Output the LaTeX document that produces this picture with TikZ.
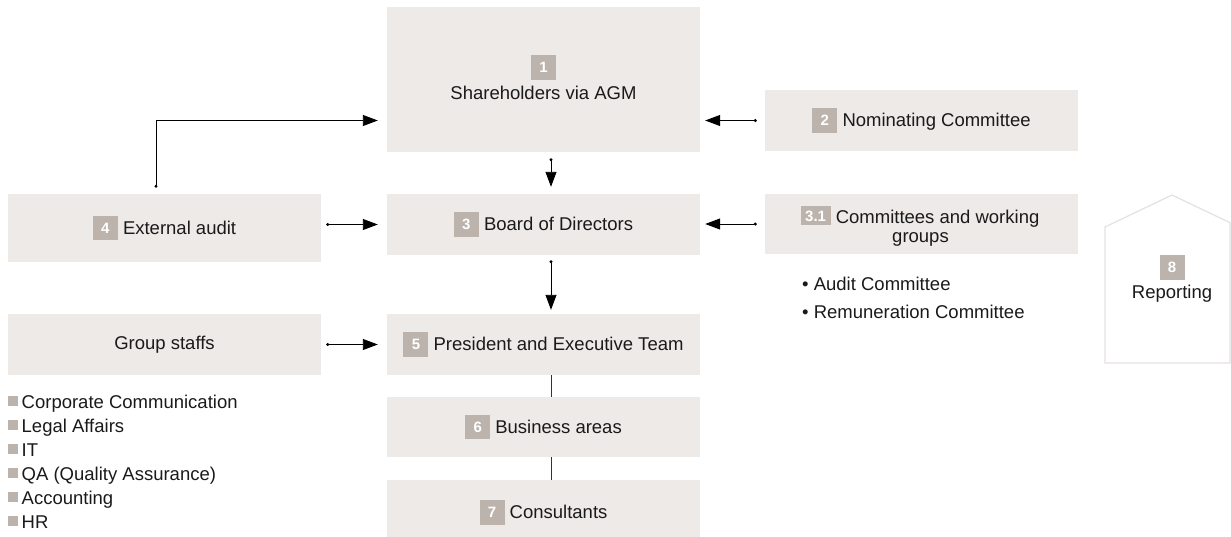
\documentclass[tikz,border=0pt]{standalone}
\usepackage{fontspec}
\setmainfont{Liberation Sans}
\usetikzlibrary{arrows.meta,calc}

\definecolor{boxfill}{HTML}{EEEAE8}
\definecolor{badgegrey}{HTML}{BCB3AD}
\definecolor{houseline}{HTML}{E6E1DF}
\definecolor{ink}{HTML}{1A1A1A}

\newcommand\mainsize{\fontsize{18.5pt}{22pt}\selectfont}
\newcommand\numfont{\fontsize{15pt}{15pt}\selectfont\bfseries}
% inline number badge, 25pt square sitting around the text baseline
\newcommand\nbadge[1]{{\setlength\fboxsep{0pt}\colorbox{badgegrey}{\makebox[25pt]{\rule[-6pt]{0pt}{24.5pt}\raisebox{1pt}{\textcolor{white}{\numfont #1}}}}}}
% flatter and wider badge for the committee box
\newcommand\wbadge[1]{{\setlength\fboxsep{0pt}\colorbox{badgegrey}{\makebox[30pt]{\rule[-2pt]{0pt}{19pt}\raisebox{1.5pt}{\textcolor{white}{\numfont #1}}}}}}
% small square list marker
\newcommand\sqmark{\textcolor{badgegrey}{\rule[2pt]{10pt}{10pt}}\hspace{3.5pt}}

\tikzset{
  box/.style={fill=boxfill, draw=none, minimum width=313pt, inner sep=0pt, font=\mainsize, text=ink},
  txt/.style={inner sep=0pt, font=\mainsize, text=ink},
  numbadge/.style={fill=badgegrey, minimum size=25pt, inner sep=0pt, text=white, font=\numfont},
  conn/.style={draw=black, line width=0.9pt, {Circle[length=3pt]}-{Triangle[length=15pt,width=11pt]}},
  plain/.style={draw=black!80, line width=0.9pt},
}

\begin{document}
\begin{tikzpicture}[x=1pt,y=-1pt]
\useasboundingbox (0,0) rectangle (1231,536);
\clip (0,0) rectangle (1231,536);

% centre column
\node[box, minimum height=145pt] (b1) at (543.5,79.5) {};
\node[numbadge] (n1) at (543.5,67.5) {1};
\node[txt, anchor=base] (t1) at (543.5,99.3) {Shareholders via AGM};

\node[box, minimum height=61pt] (b3) at (543.5,224.5) {\nbadge{3} Board of Directors};
\node[box, minimum height=61pt] (b5) at (543.5,344.5) {\nbadge{5} President and Executive Team};
\node[box, minimum height=60pt] (b6) at (543.5,427) {\nbadge{6} Business areas};
\node[box, minimum height=65pt] (b7) at (543.5,512.5) {\nbadge{7} Consultants};

% right column
\node[box, minimum height=61pt] (b2) at (921.5,120.5) {\nbadge{2} Nominating Committee};
\node[box, minimum height=60pt] (b31) at (921.5,224) {};
\node[txt, anchor=base] (t31a) at (920,223) {\wbadge{3.1} Committees and working};
\node[txt, anchor=base] (t31b) at (920.5,242) {groups};
\node[txt, anchor=base west] (c1) at (802,290) {• Audit Committee};
\node[txt, anchor=base west] (c2) at (802,318) {• Remuneration Committee};

% left column
\node[box, minimum height=68pt] (b4) at (164.5,228) {\nbadge{4} External audit};
\node[box, minimum height=61pt] (bgs) at (164.5,344.5) {Group staffs};
\node[txt, anchor=base west] (g1) at (8,408) {\sqmark Corporate Communication};
\node[txt, anchor=base west] (g2) at (8,432) {\sqmark Legal Affairs};
\node[txt, anchor=base west] (g3) at (8,456) {\sqmark IT};
\node[txt, anchor=base west] (g4) at (8,480) {\sqmark QA (Quality Assurance)};
\node[txt, anchor=base west] (g5) at (8,504) {\sqmark Accounting};
\node[txt, anchor=base west] (g6) at (8,528) {\sqmark HR};

% reporting house outline
\draw[houseline, line width=1.2pt, fill=white]
  (1105,363) -- (1105,227) -- (1172,195) -- (1230,222.7) -- (1230,363) -- cycle;
\node[numbadge] (n8) at (1172,267.5) {8};
\node[txt, anchor=base] (t8) at (1172,298.3) {Reporting};

% connectors
\draw[conn] ($(b2.west)+(-8,0)$) -- ($(b1.east |- b2.west)+(5,0)$);
\draw[conn] ($(b1.south)+(7.5,6)$) -- ($(b3.north)+(7.5,-7)$);
\draw[conn] ($(b31.west)+(-8,0)$) -- ($(b3.east |- b31.west)+(5,0)$);
\draw[conn] ($(b4.east |- b3.west)+(5,0)$) -- ($(b3.west)+(-9,0)$);
\draw[conn] ($(b3.south)+(7.5,5)$) -- ($(b5.north)+(7.5,-4)$);
\draw[conn] ($(bgs.east)+(5,0)$) -- ($(b5.west)+(-9,0)$);
\draw[conn] ($(b4.north)+(-8.5,-6)$) |- ($(b1.west |- b2.west)+(-9,0)$);
\draw[plain] ($(b5.south)+(7.5,0)$) -- ($(b6.north)+(7.5,0)$);
\draw[plain] ($(b6.south)+(7.5,0)$) -- ($(b7.north)+(7.5,0)$);
\end{tikzpicture}
\end{document}
